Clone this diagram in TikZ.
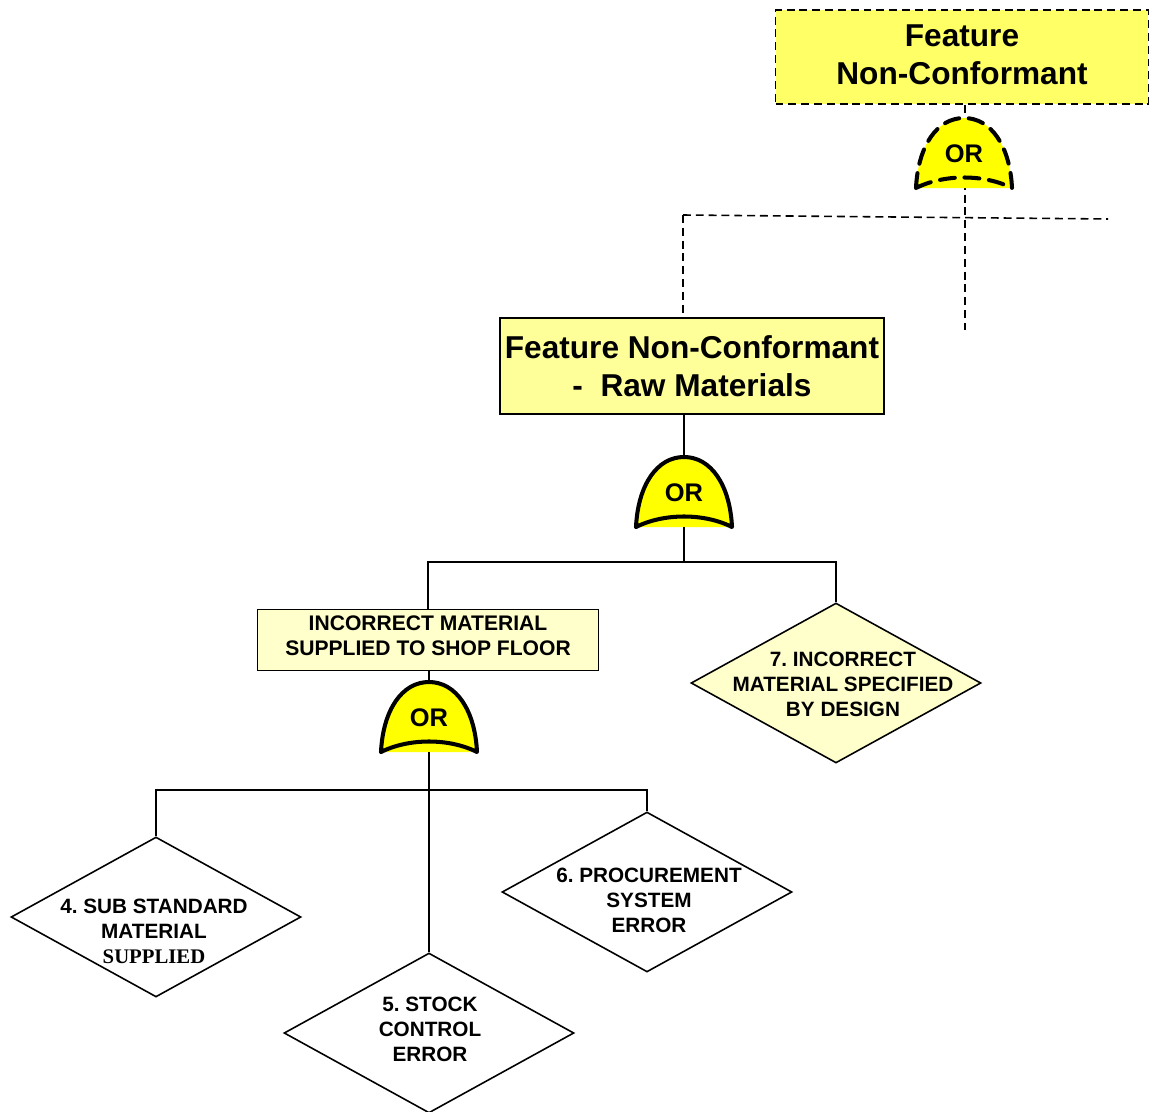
\documentclass[tikz,border=0pt]{standalone}
\usepackage{fontspec}
\setmainfont{Liberation Sans}
\newfontfamily\timesfont{Liberation Serif}
\usetikzlibrary{shapes.geometric}
\frenchspacing

\definecolor{topyellow}{HTML}{FFFF66}
\definecolor{rawyellow}{HTML}{FFFF99}
\definecolor{paleyellow}{HTML}{FFFFCC}
\definecolor{gateyellow}{HTML}{FFFF00}

\tikzset{
	box/.style={draw, line width=1pt, inner sep=0pt, align=center},
	bigtext/.style={font=\fontsize{18}{21.8}\selectfont\bfseries},
	midtext/.style={font=\fontsize{12}{14.2}\selectfont\bfseries},
	event/.style={draw, shape=diamond, line width=0.9pt, minimum width=5.8cm, minimum height=3.2cm, inner sep=0pt},
	eventtext/.style={align=center, font=\fontsize{11.8}{14.2}\selectfont\bfseries},
	link/.style={line width=0.9pt},
	dashlink/.style={line width=0.9pt, dash pattern=on 4.5pt off 2.8pt},
	pics/orgate/.style={code={
		\fill[gateyellow] (-48,0) .. controls (-46,-42) and (-27,-70) .. (0,-70) .. controls (27,-70) and (46,-42) .. (48,0) -- cycle;
		\draw[line width=2.3pt, line cap=round, line join=round, #1] (-48,0) .. controls (-46,-42) and (-27,-70) .. (0,-70) .. controls (27,-70) and (46,-42) .. (48,0) .. controls (20,-14) and (-20,-14) .. (-48,0);
		\node[font=\fontsize{14.5}{17}\selectfont\bfseries] (-or) at (0,-34) {OR};
		\coordinate (-top) at (0,-70);
		\coordinate (-bot) at (0,0);
	}},
	pics/orgate/.default={solid},
}

\begin{document}
\begin{tikzpicture}[x=0.02cm, y=-0.02cm]
	\useasboundingbox (0,0) rectangle (1150,1112);

	% top event and its gate
	\node[box, bigtext, fill=topyellow, dash pattern=on 4.5pt off 2.8pt, minimum width=7.46cm, minimum height=1.88cm] (top) at (962,57) {Feature\\Non-Conformant\rule[-2.5pt]{0pt}{0pt}};
	\coordinate (topend) at (965,330);
	\coordinate (jl) at (683,215);
	\coordinate (jr) at (1108,219);
	\draw[dashlink] (top.south -| topend) -- (topend);
	\pic (g1) at (964,188) {orgate={dash pattern=on 8.5pt off 5.5pt}};
	\draw[dashlink] (jl) -- (jr);

	% raw materials branch
	\node[box, bigtext, fill=rawyellow, minimum width=7.68cm, minimum height=1.92cm] (raw) at (692,366) {Feature Non-Conformant\\-~~Raw Materials};
	\draw[dashlink] (jl) -- (jl |- raw.north);
	\pic (g2) at (684,527) {orgate};
	\draw[link] (g2-top) -- (g2-top |- raw.south);
	\coordinate (j2) at (684,562);
	\draw[link] (g2-bot) -- (j2);

	\node[box, midtext, fill=paleyellow, minimum width=6.82cm, minimum height=1.22cm] (supplied) at (428,640) {INCORRECT MATERIAL\\SUPPLIED TO SHOP FLOOR\rule[-5pt]{0pt}{0pt}};
	\node[event, fill=paleyellow] (e7) at (836,683) {};
	\node[eventtext] (e7text) at (843,684) {7. INCORRECT\\MATERIAL SPECIFIED\\BY DESIGN};
	\draw[link] (supplied.north) |- (j2) -| (e7.north);

	% shop floor gate
	\pic (g3) at (429,752) {orgate};
	\draw[link] (g3-top) -- (g3-top |- supplied.south);
	\coordinate (j3) at (429,790);

	\node[event] (e4) at (156,917) {};
	\node[eventtext] (e4text) at (154,931) {4. SUB STANDARD\\MATERIAL\\{\timesfont SUPPLIED}};
	\node[event] (e5) at (429,1033) {};
	\node[eventtext] (e5text) at (430,1029) {5. STOCK\\CONTROL\\ERROR};
	\node[event] (e6) at (647,892) {};
	\node[eventtext] (e6text) at (649,900) {6. PROCUREMENT\\SYSTEM\\ERROR};

	\draw[link] (g3-bot) -- (e5.north);
	\draw[link] (e4.north) |- (j3) -| (e6.north);
\end{tikzpicture}
\end{document}
